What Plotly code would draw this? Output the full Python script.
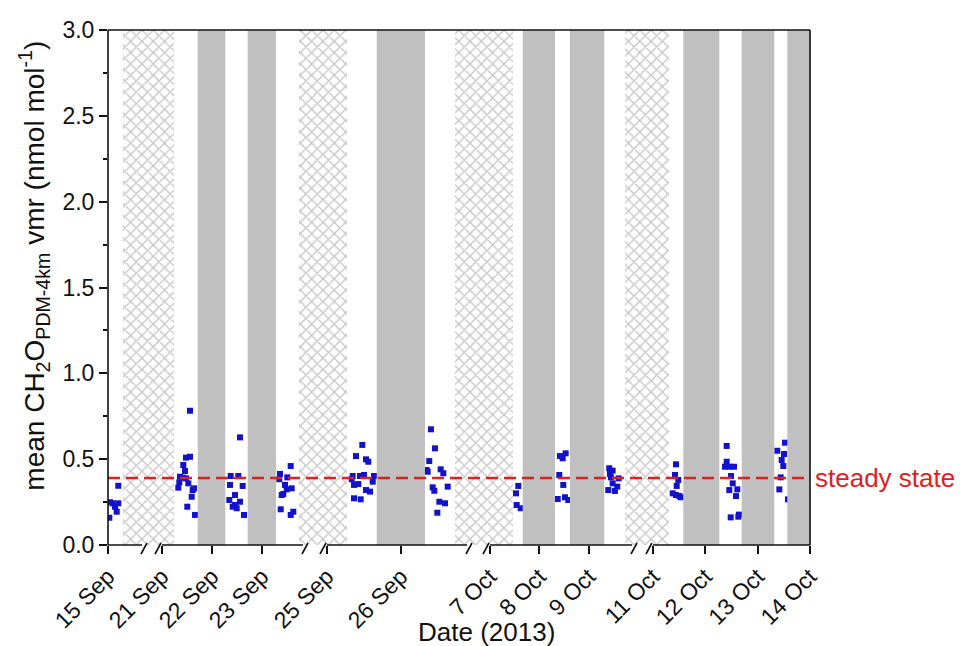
import plotly.graph_objects as go

# ---------------------------------------------------------------------------
# Data: time is given in days of September 2013 (1 Oct = 31.0), vmr in nmol/mol
# ---------------------------------------------------------------------------
obs_day = [
    # 15 Sep
    15.206, 15.040, 15.094, 15.206, 15.140, 15.174, 15.026,
    # 21 Sep
    21.560, 21.480, 21.560, 21.426, 21.460, 21.360, 21.426, 21.480,
    21.346, 21.526, 21.614, 21.640, 21.326, 21.594, 21.506, 21.660,
    # 22 Sep
    22.560, 22.374, 22.526, 22.360, 22.614, 22.460, 22.346, 22.560,
    22.460, 22.414, 22.494, 22.640,
    # 23 Sep
    23.574, 23.360, 23.506, 23.346, 23.460, 23.494, 23.594, 23.426,
    23.394, 23.374, 23.626, 23.574,
    # 25 Sep
    25.477, 25.392, 25.527, 25.558, 25.347, 25.446, 25.500, 25.635,
    25.334, 25.618, 25.365, 25.423, 25.527, 25.581, 25.365, 25.455,
    # 26 Sep
    26.405, 26.459, 26.382, 26.347, 26.361, 26.536, 26.572, 26.428,
    26.450, 26.631, 26.518, 26.595, 26.491,
    # 7 Oct
    37.572, 37.525, 37.539, 37.620,
    # 8 Oct
    38.529, 38.414, 38.469, 38.400, 38.481, 38.368, 38.515, 38.582,
    # 9 Oct
    39.410, 39.479, 39.424, 39.444, 39.479, 39.572, 39.390, 39.525, 39.600,
    # 11 Oct
    41.440, 41.420, 41.483, 41.453, 41.376, 41.440, 41.503, 41.529,
    # 12 Oct
    42.408, 42.408, 42.376, 42.458, 42.548, 42.491, 42.523, 42.458,
    42.611, 42.586, 42.485, 42.630, 42.643,
    # 13 Oct
    43.522, 43.375, 43.503, 43.459, 43.490, 43.440, 43.414, 43.580,
]
obs_vmr = [
    0.345, 0.249, 0.243, 0.243, 0.223, 0.194, 0.159,
    0.782, 0.509, 0.514, 0.466, 0.431, 0.398, 0.392, 0.388,
    0.365, 0.359, 0.320, 0.330, 0.334, 0.281, 0.223, 0.175,
    0.627, 0.402, 0.402, 0.350, 0.344, 0.291, 0.262, 0.252,
    0.233, 0.223, 0.214, 0.175,
    0.460, 0.414, 0.394, 0.383, 0.350, 0.324, 0.330, 0.297,
    0.291, 0.208, 0.194, 0.175,
    0.583, 0.518, 0.499, 0.485, 0.402, 0.402, 0.408, 0.402,
    0.383, 0.369, 0.350, 0.355, 0.320, 0.311, 0.272, 0.266,
    0.674, 0.563, 0.489, 0.437, 0.427, 0.441, 0.418, 0.336,
    0.316, 0.340, 0.252, 0.243, 0.188,
    0.344, 0.301, 0.233, 0.214,
    0.534, 0.518, 0.505, 0.408, 0.350, 0.268, 0.278, 0.262,
    0.447, 0.433, 0.414, 0.394, 0.359, 0.340, 0.320, 0.315, 0.388,
    0.470, 0.408, 0.379, 0.344, 0.301, 0.291, 0.285, 0.278,
    0.577, 0.485, 0.456, 0.456, 0.456, 0.402, 0.359, 0.320,
    0.324, 0.285, 0.161, 0.165, 0.177,
    0.596, 0.549, 0.530, 0.495, 0.460, 0.394, 0.324, 0.266,
]

steady_state = 0.39

# Periods without flights (hatched) and night-time periods (grey)
no_flight_periods = [(15.294, 21.240), (23.740, 25.274), (26.730, 37.459), (39.727, 41.311)]
night_periods = [
    (21.714, 22.266), (22.714, 23.280), (25.672, 26.324), (37.661, 38.313),
    (38.616, 39.309), (41.579, 42.267), (42.695, 43.318), (43.566, 44.000),
]

tick_days = [15, 21, 22, 23, 25, 26, 37, 38, 39, 41, 42, 43, 44]
tick_text = ["15 Sep", "21 Sep", "22 Sep", "23 Sep", "25 Sep", "26 Sep",
             "7 Oct", "8 Oct", "9 Oct", "11 Oct", "12 Oct", "13 Oct", "14 Oct"]

# ---------------------------------------------------------------------------
# Broken time axis: each piece maps [day_start, day_end] onto a stretch of
# a continuous plotting coordinate; the gaps between pieces are the breaks.
# ---------------------------------------------------------------------------
SEGMENTS = [
    (15.0, 15.68, 0, 34),
    (21.0, 23.82, 54, 195),
    (25.0, 26.892, 219, 359),
    (37.0, 39.87, 382, 524),
    (41.0, 44.0, 545, 702),
]
X_MAX = 702


def to_pos(day):
    for d0, d1, p0, p1 in SEGMENTS:
        if d0 - 1e-9 <= day <= d1 + 1e-9:
            return p0 + (day - d0) * (p1 - p0) / (d1 - d0)
    # inside a break: snap to the nearest piece edge
    best = None
    for d0, d1, p0, p1 in SEGMENTS:
        for d, p in ((d0, p0), (d1, p1)):
            if best is None or abs(day - d) < best[0]:
                best = (abs(day - d), p)
    return best[1]


BLACK = "#111111"
AXIS_W = 1.6
BLUE = "#1212cc"
RED = "#e0201e"
GREY = "#c0c0c0"

fig = go.Figure()

# hatched no-flight periods
hx, hw = [], []
for a, b in no_flight_periods:
    pa, pb = to_pos(a), to_pos(b)
    hx.append((pa + pb) / 2)
    hw.append(pb - pa)
fig.add_trace(go.Bar(
    x=hx, y=[3.0] * len(hx), width=hw, base=0,
    marker=dict(color="white", line_width=0,
                pattern=dict(shape="x", fgcolor="#8a8a8a", bgcolor="white",
                             size=8, solidity=0.3)),
    hoverinfo="skip", showlegend=False,
))

# measurements
fig.add_trace(go.Scatter(
    x=[to_pos(d) for d in obs_day], y=obs_vmr, mode="markers",
    marker=dict(symbol="square", size=6, color=BLUE, line_width=0),
    showlegend=False,
))

shapes = []
# grey night-time bands, drawn above the markers
for a, b in night_periods:
    shapes.append(dict(type="rect", xref="x", yref="y", x0=to_pos(a), x1=to_pos(b),
                       y0=0, y1=3.0, fillcolor=GREY, line_width=0, layer="above"))

# steady-state level
shapes.append(dict(type="line", xref="x", yref="y", x0=0, x1=X_MAX,
                   y0=steady_state, y1=steady_state, layer="above",
                   line=dict(color=RED, width=2.5, dash="12px,6px")))

# frame: top, right and left edges
shapes.append(dict(type="line", xref="paper", yref="paper", x0=0, x1=1, y0=1, y1=1,
                   line=dict(color=BLACK, width=AXIS_W), layer="above"))
shapes.append(dict(type="line", xref="paper", yref="paper", x0=1, x1=1, y0=0, y1=1,
                   line=dict(color=BLACK, width=AXIS_W), layer="above"))
shapes.append(dict(type="line", xref="paper", yref="paper", x0=0, x1=0, y0=0, y1=1,
                   line=dict(color=BLACK, width=AXIS_W), layer="above"))

# bottom axis pieces with break marks
for i, (d0, d1, p0, p1) in enumerate(SEGMENTS):
    shapes.append(dict(type="line", xref="x", yref="paper", x0=p0, x1=p1, y0=0, y1=0,
                       line=dict(color=BLACK, width=AXIS_W), layer="above"))
    if i < len(SEGMENTS) - 1:
        shapes.append(dict(type="line", xref="x", yref="paper",
                           xsizemode="pixel", xanchor=p1, x0=-1, x1=5,
                           ysizemode="pixel", yanchor=0, y0=-9, y1=2,
                           line=dict(color=BLACK, width=AXIS_W), layer="above"))
    if i > 0:
        shapes.append(dict(type="line", xref="x", yref="paper",
                           xsizemode="pixel", xanchor=p0, x0=-7, x1=-1,
                           ysizemode="pixel", yanchor=0, y0=-9, y1=2,
                           line=dict(color=BLACK, width=AXIS_W), layer="above"))

annotations = [
    dict(text="steady state", xref="paper", yref="y", x=1, y=steady_state,
         xanchor="left", yanchor="middle", xshift=3, showarrow=False,
         font=dict(size=26, color=RED)),
    dict(text="Date (2013)", xref="paper", yref="paper", x=0.5385, y=-0.169,
         xanchor="center", yanchor="middle", showarrow=False,
         font=dict(size=26, color=BLACK)),
    dict(text="mean CH<sub>2</sub>O<sub>PDM-4km</sub> vmr (nmol mol<sup>-1</sup>)",
         xref="paper", yref="paper", x=-0.105, y=0.543, textangle=-90,
         xanchor="center", yanchor="middle", showarrow=False,
         font=dict(size=28, color=BLACK)),
]

fig.update_layout(
    width=963, height=646,
    margin=dict(l=108, r=153, t=30, b=101),
    paper_bgcolor="white", plot_bgcolor="white",
    font=dict(family="Liberation Sans, Arial, sans-serif", color=BLACK),
    barmode="overlay", bargap=0,
    shapes=shapes, annotations=annotations,
    xaxis=dict(range=[0, X_MAX], showgrid=False, zeroline=False, showline=False,
               tickvals=[to_pos(d) for d in tick_days], ticktext=tick_text,
               tickangle=-45, ticks="outside", ticklen=8, tickwidth=AXIS_W,
               tickcolor=BLACK, tickfont=dict(size=23), automargin=False,
               fixedrange=True),
    yaxis=dict(range=[0, 3.0], showgrid=False, zeroline=False, showline=False,
               tickvals=[0, 0.5, 1.0, 1.5, 2.0, 2.5, 3.0], tickformat=".1f",
               ticks="outside", ticklen=8, tickwidth=AXIS_W, tickcolor=BLACK,
               minor=dict(ticks="outside", ticklen=4, tickwidth=AXIS_W,
                          tickcolor=BLACK, dtick=0.25),
               tickfont=dict(size=23), automargin=False, fixedrange=True),
)

fig.write_html("out.html")
